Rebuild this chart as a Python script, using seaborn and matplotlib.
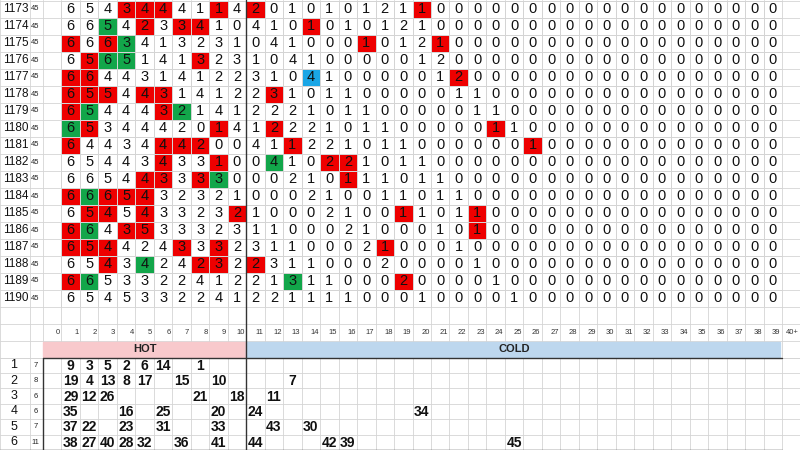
import numpy as np
import pandas as pd
import matplotlib
matplotlib.use("Agg")
import matplotlib.pyplot as plt
import seaborn as sns
from matplotlib.colors import ListedColormap

sns.set_theme(style="white")
plt.rcParams['font.family'] = ['Liberation Sans', 'DejaVu Sans']

draws = list(range(1173, 1191))
draw_counts = [45] * 18
col_labels = [str(i) for i in range(40)] + ["40+"]

# cells 1..39 per draw row
grid_values = [
    [6,5,4,3,4,4,4,1,1,4,2, 0,1,0,1,0,1,2,1,1,0,0,0,0,0],
    [6,6,5,4,2,3,3,4,1,0,4, 1,0,1,0,1,0,1,2,1,0,0,0,0,0],
    [6,6,6,3,4,1,3,2,3,1,0, 4,1,0,0,0,1,0,1,2,1,0,0,0,0],
    [6,5,6,5,1,4,1,3,2,3,1, 0,4,1,0,0,0,0,0,1,2,0,0,0,0],
    [6,6,4,4,3,1,4,1,2,2,3, 1,0,4,1,0,0,0,0,0,1,2,0,0,0],
    [6,5,5,4,4,3,1,4,1,2,2, 3,1,0,1,1,0,0,0,0,0,1,1,0,0],
    [6,5,4,4,4,3,2,1,4,1,2, 2,2,1,0,1,1,0,0,0,0,0,1,1,0],
    [6,5,3,4,4,4,2,0,1,4,1, 2,2,2,1,0,1,1,0,0,0,0,0,1,1],
    [6,4,4,3,4,4,4,2,0,0,4, 1,1,2,2,1,0,1,1,0,0,0,0,0,0, 1],
    [6,5,4,4,3,4,3,3,1,0,0, 4,1,0,2,2,1,0,1,1,0,0,0,0,0],
    [6,6,5,4,4,3,3,3,3,0,0, 0,2,1,0,1,1,1,0,1,1,0,0,0,0],
    [6,6,6,5,4,3,2,3,2,1,0, 0,0,2,1,0,0,1,1,0,1,1,0,0,0],
    [6,5,4,5,4,3,3,2,3,2,1, 0,0,0,2,1,0,0,1,1,0,1,1,0,0],
    [6,6,4,3,5,3,3,3,2,3,1, 1,0,0,0,2,1,0,0,0,1,0,1,0,0],
    [6,5,4,4,2,4,3,3,3,2,3, 1,1,0,0,0,2,1,0,0,0,1,0,0,0],
    [6,5,4,3,4,2,4,2,3,2,2, 3,1,1,0,0,0,2,0,0,0,0,1,0,0],
    [6,6,5,3,3,2,2,4,1,2,2, 1,3,1,1,0,0,0,2,0,0,0,0,1,0],
    [6,5,4,5,3,3,2,2,4,1,2, 2,1,1,1,1,0,0,0,1,0,0,0,0,1],
]
# highlighted cells per row: cell -> r (red), g (green), b (blue)
highlights = [
    {4:'r',5:'r',6:'r',9:'r',11:'r',20:'r'},
    {3:'g',5:'r',7:'r',8:'r',14:'r'},
    {1:'r',3:'r',4:'g',17:'r',21:'r'},
    {2:'r',3:'g',4:'g',8:'r'},
    {1:'r',2:'r',14:'b',22:'r'},
    {1:'r',2:'r',3:'r',5:'r',6:'r',12:'r'},
    {1:'r',2:'g',6:'r',7:'g'},
    {1:'g',2:'r',9:'r',12:'r',24:'r'},
    {1:'r',6:'r',7:'r',8:'r',13:'r',26:'r'},
    {6:'r',9:'r',12:'g',15:'r',16:'r'},
    {5:'r',6:'r',8:'r',9:'g',16:'r'},
    {1:'r',2:'g',3:'r',4:'r',5:'r'},
    {2:'r',3:'r',5:'r',10:'r',19:'r',23:'r'},
    {1:'r',2:'g',4:'r',5:'r',23:'r'},
    {1:'r',2:'r',3:'r',7:'r',9:'r',18:'r'},
    {3:'r',5:'g',8:'r',9:'r',11:'r'},
    {1:'r',2:'g',13:'g',19:'r'},
    {},
]

bottom_rows = [1, 2, 3, 4, 5, 6]
bottom_counts = [7, 8, 6, 6, 7, 11]
bottom_nums = [
    [9,3,5,2,6,14,1],
    [19,4,13,8,17,15,10,7],
    [29,12,26,21,18,11],
    [35,16,25,20,24,34],
    [37,22,23,31,33,43,30],
    [38,27,40,28,32,36,41,44,42,39,45],
]
bottom_cols = [
    [1,2,3,4,5,6,8],
    [1,2,3,4,5,7,9,13],
    [1,2,3,8,10,12],
    [1,4,6,9,11,20],
    [1,2,4,6,9,12,14],
    [1,2,3,4,5,7,9,11,15,16,25],
]

NC = 39
vals = np.zeros((18, NC), dtype=int)
codes = np.zeros((18, NC), dtype=int)
cmap_idx = {'r': 1, 'g': 2, 'b': 3}
for i, row in enumerate(grid_values):
    vals[i, :len(row)] = row
    for c, k in highlights[i].items():
        codes[i, c - 1] = cmap_idx[k]

W, H = 800, 450
fig = plt.figure(figsize=(8, 4.5), dpi=100)
bg = fig.add_axes([0, 0, 1, 1])
bg.set_xlim(0, W); bg.set_ylim(H, 0); bg.axis('off')

x0 = 43.0
cw = (782 - x0) / 40
rh = 17.0
ytop = 0.5
gy = ytop + 18 * rh
lab_y0 = gy + rh
bar_y0 = lab_y0 + rh
bot_y0 = bar_y0 + rh
brh = (H - bot_y0) / 6
grid_c = '#d4d4d4'

# light spreadsheet grid
xs = [0, 30, x0] + [x0 + k * cw for k in range(1, 41)] + [W]
for x in xs:
    bg.plot([x, x], [0, H], color=grid_c, lw=0.6, zorder=0)
ys = [ytop + r * rh for r in range(22)] + [bot_y0 + r * brh for r in range(7)]
for y in ys:
    bg.plot([0, W], [y, y], color=grid_c, lw=0.6, zorder=0)

# HOT / COLD bars
bg.add_patch(plt.Rectangle((x0, bar_y0 + 1), 11 * cw, rh - 2, color='#f8c9cc', zorder=1))
bg.add_patch(plt.Rectangle((x0 + 11 * cw, bar_y0 + 1), 29 * cw - 2, rh - 2, color='#bdd7ee', zorder=1))
bg.text(x0 + 5.5 * cw, bar_y0 + rh / 2, 'HOT', ha='center', va='center', fontsize=8, fontweight='bold', color='#222222', zorder=2)
bg.text(x0 + 25.5 * cw, bar_y0 + rh / 2, 'COLD', ha='center', va='center', fontsize=8, fontweight='bold', color='#222222', zorder=2)

# column labels
for k, lab in enumerate(col_labels):
    bg.text(x0 + (k + 1) * cw - 1.5, lab_y0 + rh / 2 + 1, lab, ha='right', va='center', fontsize=5.5, color='#333333')

# row labels top
for i, (d, n) in enumerate(zip(draws, draw_counts)):
    yc = ytop + (i + 0.5) * rh
    bg.text(3, yc, str(d), ha='left', va='center', fontsize=8.5, color='#111111')
    bg.text(35.5, yc, str(n), ha='center', va='center', fontsize=5.5, color='#222222')

# bottom table
for r, (rn, cnt) in enumerate(zip(bottom_rows, bottom_counts)):
    yc = bot_y0 + (r + 0.5) * brh
    bg.text(14, yc, str(rn), ha='center', va='center', fontsize=9, color='#111111')
    bg.text(35.5, yc, str(cnt), ha='center', va='center', fontsize=5.5, color='#222222')
    for num, c in zip(bottom_nums[r], bottom_cols[r]):
        bg.text(x0 + (c + 0.5) * cw, yc + 0.5, str(num), ha='center', va='center', fontsize=10, fontweight='bold', color='#111111')

# dark lines
xd = x0 + 11 * cw
bg.plot([xd, xd], [0, H], color='#333333', lw=1.0, zorder=3)
bg.plot([x0, 782], [bot_y0, bot_y0], color='#333333', lw=1.0, zorder=3)
bg.plot([x0, x0], [bot_y0, H], color='#333333', lw=1.0, zorder=3)
bg.plot([0, 782], [H - 0.5, H - 0.5], color='#333333', lw=1.0, zorder=3)

# main heatmap grid
ax = fig.add_axes([(x0 + cw) / W, 1 - gy / H, NC * cw / W, (gy - ytop) / H])
ax.patch.set_alpha(0)
cmap = ListedColormap(['#ffffff', '#ee0000', '#12a64a', '#1aa6e6'])
sns.heatmap(pd.DataFrame(codes), ax=ax, cmap=cmap, vmin=-0.5, vmax=3.5, cbar=False,
            annot=vals, fmt='d', linewidths=0.6, linecolor=grid_c,
            annot_kws={'color': '#111111', 'fontsize': 10.5})
ax.set_xticks([]); ax.set_yticks([])
ax.set_xlabel(''); ax.set_ylabel('')
ax.plot([10, 10], [0, 18], color='#333333', lw=1.0)

fig.savefig('out.png', dpi=100)
